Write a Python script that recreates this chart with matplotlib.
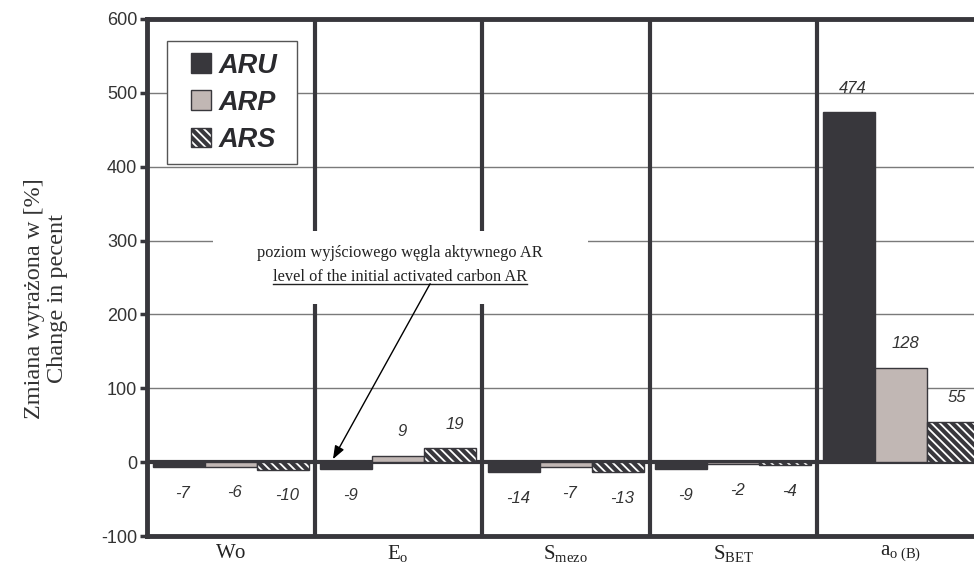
import numpy as np
import matplotlib.pyplot as plt
from matplotlib.patches import Patch, Rectangle
from matplotlib.legend_handler import HandlerPatch

plt.rcParams['font.family'] = 'Liberation Sans'
plt.rcParams['mathtext.fontset'] = 'custom'
plt.rcParams['mathtext.rm'] = 'Liberation Serif'
plt.rcParams['mathtext.it'] = 'Liberation Serif:italic'
plt.rcParams['axes.unicode_minus'] = False
plt.rcParams['hatch.linewidth'] = 1.3

# data
groups = [r'$\mathrm{Wo}$', r'$\mathrm{E_o}$', r'$\mathrm{S_{mezo}}$', r'$\mathrm{S_{BET}}$', r'$\mathrm{a_{o\ (B)}}$']
series = ['ARU', 'ARP', 'ARS']
aru = [-7, -9, -14, -9, 474]
arp = [-6, 9, -7, -2, 128]
ars = [-10, 19, -13, -4, 55]
yticks = [-100, 0, 100, 200, 300, 400, 500, 600]

dark = '#38373c'
light = '#c1b7b4'
hatch = '\\\\\\\\'

fig = plt.figure(figsize=(9.74, 5.86), dpi=100)
ax = fig.add_axes([0.1509, 0.0853, 0.86, 0.8823])

x = np.arange(len(groups))
w = 0.31

ax.bar(x - w, aru, w, color=dark, edgecolor=dark, lw=1, zorder=3)
ax.bar(x, arp, w, color=light, edgecolor=dark, lw=1, zorder=3)
ax.bar(x + w, ars, w, color=dark, edgecolor='white', hatch=hatch, lw=0, zorder=3)
ax.bar(x + w, ars, w, color='none', edgecolor=dark, lw=1, zorder=3)

# value labels
for vals, off in zip([aru, arp, ars], [-w, 0, w]):
    for xi, v in zip(x, vals):
        ax.annotate(str(v), (xi + off, v), xytext=(3, 17 if v > 0 else -19),
                    textcoords='offset points', ha='center', va='center',
                    style='italic', fontsize=12, color='#333333', zorder=4)

# grid, zero line, group separators
for yv in yticks[2:-1]:
    ax.axhline(yv, color='#7a7a7a', lw=1, zorder=1)
ax.axhline(0, color=dark, lw=3, zorder=2)
for s in x[:-1] + 0.5:
    ax.axvline(s, color=dark, lw=3, zorder=2)

ax.set_xlim(-0.5, len(groups) - 0.5)
ax.set_ylim(-100, 600)
ax.set_yticks(yticks)
ax.set_xticks(x)
ax.set_xticklabels(groups, fontsize=15)
ax.tick_params(axis='x', length=0, pad=5, labelcolor='#222222')
ax.tick_params(axis='y', length=5, width=2.5, color=dark, labelsize=13, pad=2, labelcolor='#333333')
for sp in ax.spines.values():
    sp.set_linewidth(3.5)
    sp.set_color(dark)

ax.set_ylabel('Zmiana wyrażona w [%]\nChange in pecent', family='Liberation Serif',
              fontsize=17.5, linespacing=1.15, color='#333333')
ax.yaxis.set_label_coords(-0.094, 0.46)

# annotation box
ax.add_patch(Rectangle((-0.106, 214), 2.24, 99, facecolor='white', edgecolor='none', zorder=2.5))
ax.text(1.01, 283, 'poziom wyjściowego węgla aktywnego AR', ha='center', va='center',
        family='Liberation Serif', fontsize=11.8, color='#222222', zorder=4)
t2 = ax.text(1.01, 251, 'level of the initial activated carbon AR', ha='center', va='center',
             family='Liberation Serif', fontsize=11.8, color='#222222', zorder=4)

fig.canvas.draw()
bb = t2.get_window_extent()
inv = ax.transData.inverted()
(ux0, uy), (ux1, _) = inv.transform([(bb.x0, bb.y0 + 1), (bb.x1, bb.y0 + 1)])
ax.plot([ux0, ux1], [uy, uy], color='#222222', lw=1, zorder=4, scalex=False, scaley=False)
ax.annotate('', xy=(0.61, 4), xytext=(1.19, uy),
            arrowprops=dict(arrowstyle='-|>,head_length=0.8,head_width=0.3', color='black',
                            lw=1, shrinkA=0, shrinkB=0), zorder=5)


# legend: square markers sitting at the right of a wider handle box
def square(legend, orig_handle, xdescent, ydescent, width, height, fontsize):
    return Rectangle((-xdescent + width - height, -ydescent), height, height)


h1 = Patch(facecolor=dark, edgecolor=dark)
h2 = Patch(facecolor=light, edgecolor=dark)
h3 = (Patch(facecolor=dark, edgecolor='white', hatch=hatch, lw=0),
      Patch(facecolor='none', edgecolor=dark))
leg = ax.legend([h1, h2, h3], [s + ' ' for s in series], loc='upper left',
                bbox_to_anchor=(0.024, 0.957), borderaxespad=0,
                prop=dict(family='Liberation Sans', weight='bold', style='italic', size=19.5),
                handler_map={Patch: HandlerPatch(patch_func=square)},
                handlelength=1.19, handleheight=0.74, handletextpad=0.3, labelspacing=0.41,
                borderpad=0.42, fancybox=False, edgecolor='#555555', framealpha=1)
leg.get_frame().set_linewidth(1)
for t in leg.get_texts():
    t.set_color('#2a2a2e')

fig.savefig('out.png', dpi=100)
